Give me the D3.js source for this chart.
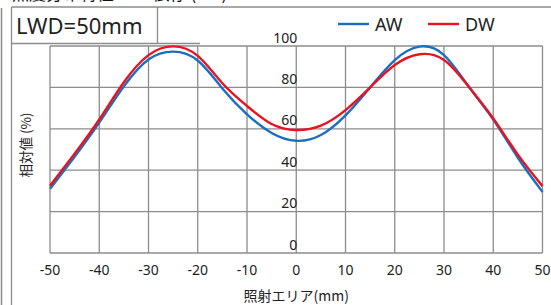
<!DOCTYPE html>
<html>
<head>
<meta charset="utf-8">
<script src="https://cdn.jsdelivr.net/npm/d3@7"></script>
<style>
  html, body { margin: 0; padding: 0; background: #fff; }
  svg { display: block; }
  text { font-family: "Noto Sans", "Noto Sans CJK JP", sans-serif; fill: #222; }
</style>
</head>
<body>
<svg id="chart" width="551" height="305"></svg>
<script>
// data
var positions = [-50, -45, -40, -35, -30, -25, -20, -15, -10, -5, 0, 5, 10, 15, 20, 25, 30, 35, 40, 45, 50];
var awValues  = [31, 46.5, 63, 80.5, 93.5, 97.3, 93, 79.5, 67, 58, 54.2, 57, 66.5, 80, 93.2, 99.7, 95.6, 80.4, 64.5, 46, 29.5];
var dwValues  = [32.5, 48, 64.5, 82.5, 95.6, 99.8, 95.2, 82, 71, 62.3, 59.4, 61.5, 69, 80, 90.8, 96, 93.2, 80.4, 65, 47.5, 32.3];
var xTicks = [-50, -40, -30, -20, -10, 0, 10, 20, 30, 40, 50];
var yTicks = [0, 20, 40, 60, 80, 100];
var seriesNames = ["AW", "DW"];
var seriesColors = ["#1b6fc2", "#e8131f"];

var svg = d3.select("#chart");
var gridColor = "#8c8c8c";

// plot area
var plot = { left: 50, right: 542.5, top: 46, bottom: 253 };

var x = d3.scaleLinear().domain([-50, 50]).range([plot.left, plot.right]);
var y = d3.scaleLinear().domain([0, 100]).range([plot.bottom, plot.top]);

// title cut off by the top edge of the picture
svg.append("text")
  .attr("x", 12)
  .attr("y", 0)
  .style("font-size", "17px")
  .style("font-family", "'Noto Sans CJK JP', sans-serif")
  .style("fill", "#111")
  .text("照度分布特性 LWD依存 (AW)");

// outer frame lines
svg.append("line").attr("x1", 1.5).attr("x2", 1.5).attr("y1", 8).attr("y2", 305)
  .attr("stroke", gridColor).attr("stroke-width", 1.5);
svg.append("line").attr("x1", 11.5).attr("x2", 11.5).attr("y1", 7).attr("y2", 305)
  .attr("stroke", gridColor).attr("stroke-width", 1.3);
svg.append("line").attr("x1", 11.5).attr("x2", 551).attr("y1", 7).attr("y2", 7)
  .attr("stroke", gridColor).attr("stroke-width", 1.3);

// LWD label box
svg.append("line").attr("x1", 157.5).attr("x2", 157.5).attr("y1", 7).attr("y2", 43.5)
  .attr("stroke", gridColor).attr("stroke-width", 1.3);
svg.append("line").attr("x1", 11.5).attr("x2", 200).attr("y1", 43.5).attr("y2", 43.5)
  .attr("stroke", gridColor).attr("stroke-width", 1.3);
svg.append("text")
  .attr("x", 16)
  .attr("y", 34)
  .style("font-size", "22px")
  .text("LWD=50mm");

// grid
var grid = svg.append("g").attr("class", "grid");
grid.selectAll("line.v").data(xTicks).enter().append("line")
  .attr("class", "v")
  .attr("x1", function (d) { return x(d); })
  .attr("x2", function (d) { return x(d); })
  .attr("y1", plot.top).attr("y2", plot.bottom)
  .attr("stroke", gridColor).attr("stroke-width", 1.3);
grid.selectAll("line.h").data(yTicks).enter().append("line")
  .attr("class", "h")
  .attr("x1", plot.left).attr("x2", plot.right)
  .attr("y1", function (d) { return y(d); })
  .attr("y2", function (d) { return y(d); })
  .attr("stroke", gridColor).attr("stroke-width", 1.3);

// y tick labels sit at the x=0 line, just above each gridline
svg.append("g").selectAll("text").data(yTicks).enter().append("text")
  .attr("x", x(0) + 1)
  .attr("y", function (d) { return y(d) - 3.5; })
  .attr("text-anchor", "end")
  .style("font-size", "14px")
  .text(function (d) { return d; });

// x tick labels
svg.append("g").selectAll("text").data(xTicks).enter().append("text")
  .attr("x", function (d) { return x(d); })
  .attr("y", 275)
  .attr("text-anchor", "middle")
  .style("font-size", "14px")
  .text(function (d) { return d; });

// axis titles
svg.append("text")
  .attr("x", x(0))
  .attr("y", 301)
  .attr("text-anchor", "middle")
  .style("font-size", "14px")
  .style("font-family", "'Noto Sans CJK JP', sans-serif")
  .text("照射エリア(mm)");

svg.append("text")
  .attr("transform", "translate(31," + 145 + ") rotate(-90)")
  .attr("text-anchor", "middle")
  .style("font-size", "13.5px")
  .style("font-family", "'Noto Sans CJK JP', sans-serif")
  .text("相対値 (%)");

// series lines
var line = d3.line()
  .x(function (d) { return x(d[0]); })
  .y(function (d) { return y(d[1]); })
  .curve(d3.curveNatural);

var seriesData = [awValues, dwValues];
seriesData.forEach(function (vals, i) {
  svg.append("path")
    .datum(positions.map(function (p, j) { return [p, vals[j]]; }))
    .attr("fill", "none")
    .attr("stroke", seriesColors[i])
    .attr("stroke-width", 2.4)
    .attr("d", line);
});

// legend
var legend = svg.append("g");
var legendX = [338, 428];
seriesNames.forEach(function (name, i) {
  legend.append("line")
    .attr("x1", legendX[i]).attr("x2", legendX[i] + 31)
    .attr("y1", 24).attr("y2", 24)
    .attr("stroke", seriesColors[i]).attr("stroke-width", 2.4);
  legend.append("text")
    .attr("x", legendX[i] + 37)
    .attr("y", 30.5)
    .style("font-size", "18px")
    .text(name);
});
</script>
</body>
</html>
